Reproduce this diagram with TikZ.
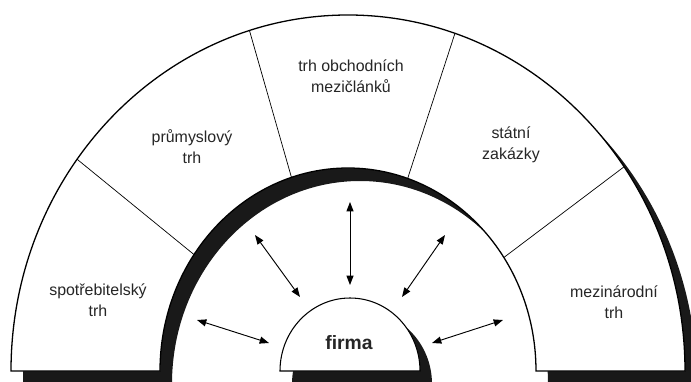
\documentclass[tikz,border=0pt]{standalone}
\usepackage{fontspec}
\setmainfont{Liberation Sans}
\usetikzlibrary{arrows.meta}

\begin{document}
\begin{tikzpicture}[x=0.03cm, y=0.03cm,
  seg/.style={align=center, font=\fontsize{13.6}{18}\selectfont, text=black!85, inner sep=0pt},
  link/.style={line width=0.8pt, {Triangle[length=2.8mm,width=2.1mm]}-{Triangle[length=2.8mm,width=2.1mm]}},
  shade/.style={fill=black!90}]
  \clip (0,0) rectangle (691,381);
  \def\rxo{337}\def\ryo{356}
  \def\rxi{188}\def\ryi{203}
  \def\rxf{70}\def\ryf{73}
  \def\dx{12}\def\dy{-13}
  % shadows
  \begin{scope}[shift={(348+\dx,10+\dy)}]
    \fill[shade] (-\rxo,0) arc[start angle=180, end angle=0, x radius=\rxo, y radius=\ryo]
      -- (\rxi,0) arc[start angle=0, end angle=180, x radius=\rxi, y radius=\ryi] -- cycle;
    \fill[shade] (2-\rxf,0) arc[start angle=180, end angle=0, x radius=\rxf, y radius=\ryf] -- cycle;
  \end{scope}
  % ring of markets
  \begin{scope}[shift={(348,10)}]
    \filldraw[fill=white, line width=1.1pt] (-\rxo,0) arc[start angle=180, end angle=0, x radius=\rxo, y radius=\ryo]
      -- (\rxi,0) arc[start angle=0, end angle=180, x radius=\rxi, y radius=\ryi] -- cycle;
    \foreach \ti/\to in {145/143.5, 107.5/107, 71.5/71.5, 34/35}{
      \draw[line width=0.6pt] (\ti:{\rxi} and {\ryi}) -- (\to:{\rxo} and {\ryo});
    }
    \filldraw[fill=white, line width=0.9pt] (2-\rxf,0) arc[start angle=180, end angle=0, x radius=\rxf, y radius=\ryf] -- cycle;
  \end{scope}
  % labels
  \node[seg] (spotreb) at (98,81) {spotřebitelský\\trh};
  \node[seg] (prumysl) at (192,234) {průmyslový\\trh};
  \node[seg] (obchod) at (351,305) {trh obchodních\\mezičlánků};
  \node[seg] (statni) at (511,236) {státní\\zakázky};
  \node[seg] (mezinar) at (614,79) {mezinárodní\\trh};
  \node[font=\fontsize{16.5}{20}\selectfont\bfseries, text=black!85, inner sep=0pt] (firma) at (349,38) {firma};
  % arrows between firm and markets
  \foreach \n/\ax/\ay/\bx/\by in {1/197/61/269/38, 2/255/146/300/84, 3/350/179/350/96,
                                  4/445/146/402/84, 5/503/61/432/38}{
    \coordinate (m\n) at (\ax,\ay);
    \coordinate (f\n) at (\bx,\by);
    \draw[link] (m\n) -- (f\n);
  }
\end{tikzpicture}
\end{document}
